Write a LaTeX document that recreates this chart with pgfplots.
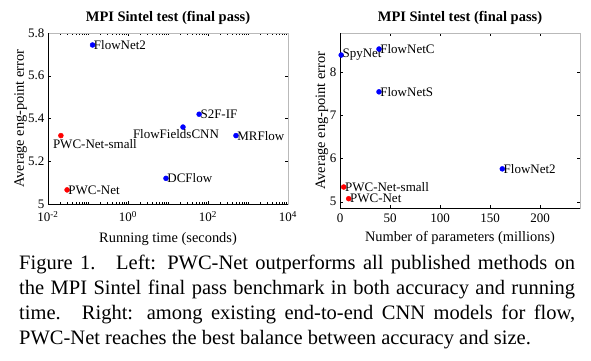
\documentclass[border=0pt]{standalone}
\usepackage{fontspec}
\setmainfont{Liberation Serif}
\usepackage{pgfplots}
\pgfplotsset{compat=1.18}

\pgfplotsset{
  matlab/.style={
    scale only axis,
    anchor=south west,
    width=240pt,
    axis line style={draw=gray!55, line width=0.5pt},
    tick align=inside,
    tick style={black, line width=0.4pt},
    major tick length=3pt,
    minor tick length=1.8pt,
    /pgf/number format/assume math mode=true,
    tick label style={font=\fontsize{13}{15}\selectfont},
    label style={font=\fontsize{14.4}{16}\selectfont},
    title style={font=\fontsize{14.5}{16}\selectfont\bfseries, anchor=base},
    clip=false,
  },
  pts/.style={only marks, mark=*, mark size=2.5pt, #1,
    point meta=explicit symbolic,
    nodes near coords,
    visualization depends on={value \thisrow{anc}\as\anc},
    visualization depends on={value \thisrow{dx}\as\dx},
    visualization depends on={value \thisrow{dy}\as\dy},
    every node near coord/.append style={anchor=\anc, xshift=\dx pt, yshift=\dy pt,
      text=black, inner sep=1.2pt, font=\fontsize{13}{15}\selectfont},
  },
}

\begin{document}
\begin{tikzpicture}
\useasboundingbox (0,0) rectangle (591pt,360pt);

% ---------------- Left axis ----------------
\begin{axis}[matlab,
  at={(48pt,156pt)},
  height=171pt,
  xmode=log,
  xmin=0.01, xmax=10000,
  ymin=5, ymax=5.8,
  xtick={0.01,1,100,10000},
  xticklabels={10\textsuperscript{-2},10\textsuperscript{0},10\textsuperscript{2},10\textsuperscript{4}},
  xticklabel style={yshift=-4pt},
  minor xtick={0.02,0.03,0.04,0.05,0.06,0.07,0.08,0.09,0.1,0.2,0.3,0.4,0.5,0.6,0.7,0.8,0.9,
    2,3,4,5,6,7,8,9,10,20,30,40,50,60,70,80,90,200,300,400,500,600,700,800,900,1000,2000,3000,4000,5000,6000,7000,8000,9000},
  ytick={5,5.2,5.4,5.6,5.8},
  title={MPI Sintel test (final pass)},
  title style={at={(axis description cs:0.5,1.035)}},
  xlabel={Running time (seconds)},
  xlabel style={at={(axis description cs:0.5,-0.225)}, anchor=base},
  ylabel={Average eng-point error},
  ylabel style={at={(axis description cs:-0.1,0.5)}, anchor=base, rotate=0},
]
\draw[black, line width=0.5pt] (rel axis cs:0,1) -- (rel axis cs:0,0) -- (rel axis cs:1,0);
\addplot[pts={blue}] table[x=x, y=y, meta=label] {
x      y      label          anc    dx  dy
0.13   5.744  FlowNet2       west   0   0
60     5.42   S2F-IF         west   0   0
23.7   5.36   FlowFieldsCNN  north  -7  -1
500    5.32   MRFlow         west   0   0
8.9    5.12   DCFlow         west   0   0
};
\addplot[pts={red}] table[x=x, y=y, meta=label] {
x      y      label          anc    dx  dy
0.021  5.32   PWC-Net-small  north  34  -2
0.030  5.066  PWC-Net        west   0   0
};
\end{axis}

% ---------------- Right axis ----------------
\begin{axis}[matlab,
  at={(340pt,152pt)},
  height=175pt,
  xmin=0, xmax=240,
  ymin=4.855, ymax=8.9,
  xtick={0,50,100,150,200},
  xticklabel style={yshift=-2pt},
  ytick={5,6,7,8},
  title={MPI Sintel test (final pass)},
  title style={at={(axis description cs:0.5,1.034)}},
  xlabel={Number of parameters (millions)},
  xlabel style={at={(axis description cs:0.5,-0.194)}, anchor=base},
  ylabel={Average eng-point error},
  ylabel style={at={(axis description cs:-0.062,0.5)}, anchor=base, rotate=0},
]
\draw[black, line width=0.5pt] (rel axis cs:0,1) -- (rel axis cs:0,0) -- (rel axis cs:1,0);
\addplot[pts={blue}] table[x=x, y=y, meta=label] {
x      y      label          anc    dx  dy
1.2    8.39   SpyNet         west   0   0
39     8.53   FlowNetC       west   0   0
39     7.54   FlowNetS       west   0   0
162.3  5.76   FlowNet2       west   0   0
};
\addplot[pts={red}] table[x=x, y=y, meta=label] {
x      y      label          anc    dx  dy
3.7    5.34   PWC-Net-small  west   0   0
8.7    5.07   PWC-Net        west   0   0
};
\end{axis}

% ---------------- Caption ----------------
\node[anchor=base west, inner sep=0pt, text width=556pt, align=justify,
      font=\fontsize{20.5}{25}\selectfont] at (19pt,90.7pt)
  {Figure 1.\hspace{0.35em} Left: PWC-Net outperforms all published methods on\linebreak
   the MPI Sintel final pass benchmark in both accuracy and running\linebreak
   time.\hspace{0.2em} Right: among existing end-to-end CNN models for flow,\linebreak
   PWC-Net reaches the best balance between accuracy and size.\par};
\end{tikzpicture}
\end{document}
